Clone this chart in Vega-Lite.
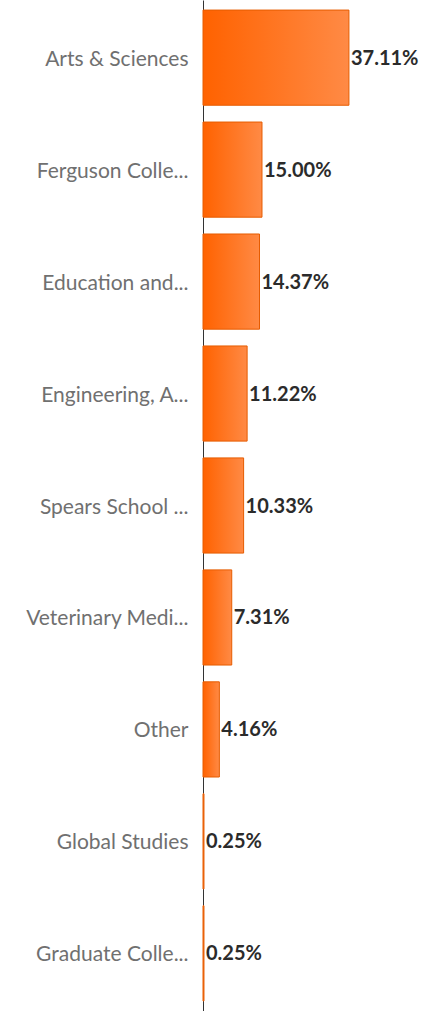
{
  "$schema": "https://vega.github.io/schema/vega-lite/v6.json",
  "autosize": {"type": "none"},
  "padding": {"left": 203, "top": 0, "right": 0, "bottom": 0},
  "width": 221,
  "height": 1011,
  "background": "white",
  "config": {"view": {"stroke": null}},
  "data": {
    "values": [
      {"college": "Arts & Sciences", "share": 0.3711},
      {"college": "Ferguson Colle...", "share": 0.15},
      {"college": "Education and...", "share": 0.1437},
      {"college": "Engineering, A...", "share": 0.1122},
      {"college": "Spears School ...", "share": 0.1033},
      {"college": "Veterinary Medi...", "share": 0.0731},
      {"college": "Other", "share": 0.0416},
      {"college": "Global Studies", "share": 0.0025},
      {"college": "Graduate Colle...", "share": 0.0025}
    ]
  },
  "encoding": {
    "y": {
      "field": "college",
      "type": "nominal",
      "sort": null,
      "scale": {"paddingInner": 0.15, "paddingOuter": 0.09},
      "axis": {
        "title": null,
        "ticks": false,
        "grid": false,
        "domain": true,
        "domainColor": "#333333",
        "domainWidth": 1,
        "labelFont": "Lato",
        "labelFontSize": 21,
        "labelColor": "#707070",
        "labelPadding": 15,
        "labelOffset": 2,
        "labelLimit": 300
      }
    },
    "x": {
      "field": "share",
      "type": "quantitative",
      "scale": {"domain": [0, 0.562], "nice": false},
      "axis": null
    }
  },
  "layer": [
    {
      "mark": {
        "type": "bar",
        "stroke": "#e65c00",
        "strokeWidth": 1,
        "color": {
          "gradient": "linear",
          "x1": 0, "y1": 0, "x2": 1, "y2": 0,
          "stops": [
            {"offset": 0, "color": "#ff6200"},
            {"offset": 1, "color": "#ff8a45"}
          ]
        }
      }
    },
    {
      "mark": {
        "type": "text",
        "align": "left",
        "baseline": "middle",
        "dx": 2,
        "dy": 1,
        "font": "Lato",
        "fontWeight": "bold",
        "fontSize": 20,
        "color": "#2b2b2b"
      },
      "encoding": {
        "text": {"field": "share", "type": "quantitative", "format": ".2%"}
      }
    }
  ]
}
